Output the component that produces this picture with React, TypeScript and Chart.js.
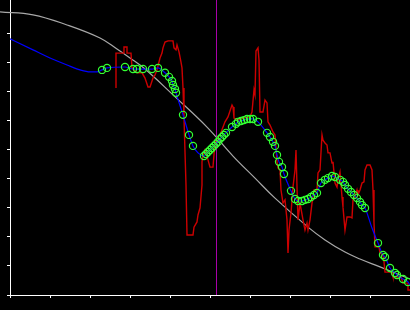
import { useEffect, useRef } from 'react';
import { Chart, registerables } from 'chart.js';

Chart.register(...registerables);

// Axis ticks (no labels shown)
const xTicks = [0, 1, 2, 3, 4, 5, 6, 7, 8, 9, 10];
const yTicks = [0, 1, 2, 3, 4, 5, 6, 7, 8, 9];
const X_MIN = 0;
const X_MAX = 10;
const Y_MIN = 0;
const Y_MAX = 10.17;

// Vertical marker position
const markerLineX = 5.1625;

// Gray reference curve
const grayX = [-0.25, 0.575, 1.425, 2.25, 2.675, 3.0, 3.375, 4.075, 4.925, 5.575, 6.125, 6.625, 7.45, 7.875, 8.375, 8.75, 9.25, 10.0];
const grayY = [9.76, 9.66, 9.31, 8.86, 8.48, 8.17, 7.79, 6.9, 5.79, 4.79, 4.03, 3.34, 2.34, 1.9, 1.48, 1.24, 0.97, 0.55];

// Red raw signal
const redX = [2.65,2.65,2.85,2.85,2.925,2.925,3.025,3.05,3.175,3.30,3.375,3.45,3.50,3.575,3.625,3.675,3.75,3.80,3.825,3.875,3.95,4.075,4.10,4.15,4.175,4.225,4.275,4.30,4.325,4.35,4.375,4.40,4.425,4.575,4.60,4.675,4.70,4.75,4.80,4.80,4.825,4.875,4.95,5.0,5.075,5.125,5.25,5.375,5.45,5.55,5.575,5.60,5.70,5.825,6.0,6.05,6.10,6.125,6.15,6.20,6.225,6.25,6.325,6.375,6.425,6.45,6.50,6.575,6.625,6.675,6.70,6.75,6.775,6.825,6.875,6.925,6.95,6.975,7.025,7.075,7.125,7.15,7.175,7.20,7.25,7.325,7.375,7.425,7.45,7.50,7.55,7.60,7.675,7.70,7.75,7.80,7.825,7.875,7.925,7.95,8.0,8.05,8.075,8.125,8.175,8.20,8.25,8.30,8.325,8.375,8.425,8.50,8.55,8.575,8.625,8.675,8.70,8.75,8.80,8.85,8.875,8.925,9.0,9.05,9.075,9.10,9.125,9.225,9.25,9.325,9.35,9.375,9.50,9.55,9.575,9.775,9.80,9.825,9.95,9.95,10.0];
const redY = [7.14,8.34,8.34,8.55,8.55,8.34,8.34,7.83,7.66,7.66,7.48,7.17,7.17,7.48,7.59,7.76,8.17,8.34,8.52,8.72,8.76,8.76,8.52,8.45,8.62,8.38,8.03,7.83,7.14,6.10,4.93,3.79,2.07,2.07,2.34,2.52,2.76,3.00,3.79,4.59,4.83,5.00,4.66,4.41,4.41,5.28,5.52,5.97,6.14,6.55,6.48,6.10,6.03,6.10,6.14,6.31,7.07,6.90,8.41,8.52,8.10,6.31,6.31,6.72,6.62,5.97,5.86,5.62,5.52,4.59,4.38,4.31,3.62,3.17,3.28,2.59,1.45,2.24,2.83,3.72,4.31,5.00,3.72,2.59,3.17,2.59,2.24,2.48,2.24,2.59,3.17,3.62,3.62,4.21,4.31,5.52,5.34,5.24,5.17,4.90,4.90,4.55,4.59,3.86,3.72,3.97,4.24,3.38,3.03,2.24,2.69,2.69,2.66,3.28,3.38,3.62,3.45,3.62,3.86,3.90,4.31,4.48,4.48,4.31,3.62,2.48,1.66,1.66,1.45,1.38,1.14,0.79,0.79,0.76,0.62,0.62,0.52,0.41,0.41,0.17,0.17];

// Green sample markers (lie on the blue fitted curve)
const sampleX = [2.30,2.425,2.875,3.075,3.175,3.325,3.55,3.70,3.875,3.975,4.05,4.075,4.125,4.15,4.325,4.475,4.575,4.85,4.90,4.95,5.00,5.05,5.10,5.15,5.20,5.25,5.30,5.35,5.40,5.55,5.65,5.70,5.775,5.85,5.925,6.00,6.075,6.20,6.425,6.50,6.575,6.625,6.675,6.725,6.80,6.85,7.025,7.125,7.20,7.30,7.375,7.45,7.525,7.60,7.675,7.775,7.875,7.95,8.05,8.125,8.25,8.325,8.375,8.45,8.525,8.60,8.675,8.75,8.80,8.875,9.20,9.325,9.375,9.50,9.625,9.675,9.825,9.95];
const sampleY = [7.76,7.83,7.86,7.79,7.79,7.79,7.79,7.83,7.66,7.52,7.38,7.24,7.10,6.97,6.21,5.52,5.14,4.79,4.86,4.93,5.00,5.07,5.14,5.21,5.28,5.38,5.45,5.52,5.59,5.79,5.90,5.97,6.00,6.03,6.07,6.07,6.07,5.97,5.59,5.45,5.28,5.14,4.83,4.59,4.41,4.17,3.59,3.31,3.24,3.24,3.28,3.31,3.38,3.45,3.52,3.86,3.97,4.03,4.10,4.07,3.97,3.90,3.79,3.66,3.55,3.45,3.34,3.21,3.10,3.00,1.79,1.38,1.31,0.93,0.76,0.69,0.55,0.45];

// Extra blue-curve points read where no marker sits
const blueExtraX = [0.0, 0.575, 1.0, 1.425, 1.75, 2.0, 2.175, 4.70, 9.05, 10.0];
const blueExtraY = [8.83, 8.45, 8.17, 7.93, 7.76, 7.69, 7.69, 4.90, 2.31, 0.34];

const pts = (xs: number[], ys: number[]) => {
  const n = Math.min(xs.length, ys.length);
  const out: { x: number; y: number }[] = [];
  for (let i = 0; i < n; i++) out.push({ x: xs[i], y: ys[i] });
  return out;
};

export default function App() {
  const ref = useRef<HTMLCanvasElement | null>(null);

  useEffect(() => {
    if (!ref.current) return;
    const bluePts = [...pts(blueExtraX, blueExtraY), ...pts(sampleX, sampleY)].sort((a, b) => a.x - b.x);

    const axisCommon = {
      type: 'linear' as const,
      ticks: { display: false },
      grid: { drawOnChartArea: false, drawTicks: true, tickLength: 3, color: '#ffffff', lineWidth: 1 },
      border: { display: true, color: '#ffffff', width: 1 },
    };

    const chart = new Chart(ref.current, {
      type: 'line',
      data: {
        datasets: [
          {
            label: 'samples',
            data: pts(sampleX, sampleY),
            showLine: false,
            pointRadius: 3.6,
            pointBorderWidth: 1.2,
            pointBorderColor: '#33ff33',
            pointBackgroundColor: 'rgba(0,0,0,0)',
            order: 0,
          },
          {
            label: 'fit',
            data: bluePts,
            borderColor: '#0000ff',
            borderWidth: 1.2,
            pointRadius: 0,
            cubicInterpolationMode: 'monotone',
            order: 1,
          },
          {
            label: 'marker',
            data: [
              { x: markerLineX, y: Y_MIN },
              { x: markerLineX, y: Y_MAX },
            ],
            borderColor: '#a800a8',
            borderWidth: 1,
            pointRadius: 0,
            order: 2,
          },
          {
            label: 'raw',
            data: pts(redX, redY),
            borderColor: '#cc0000',
            borderWidth: 1.4,
            pointRadius: 0,
            tension: 0,
            order: 3,
          },
          {
            label: 'reference',
            data: pts(grayX, grayY),
            borderColor: '#a8a8a8',
            borderWidth: 1.2,
            pointRadius: 0,
            tension: 0.4,
            clip: false,
            order: 4,
          },
        ],
      },
      options: {
        animation: false,
        responsive: false,
        devicePixelRatio: 1,
        layout: { padding: 0, autoPadding: false },
        plugins: { legend: { display: false }, tooltip: { enabled: false } },
        scales: {
          x: {
            ...axisCommon,
            min: X_MIN,
            max: X_MAX,
            afterBuildTicks: (s: any) => {
              s.ticks = xTicks.map((v) => ({ value: v }));
            },
            afterFit: (s: any) => {
              s.height = 15;
            },
          },
          y: {
            ...axisCommon,
            min: Y_MIN,
            max: Y_MAX,
            afterBuildTicks: (s: any) => {
              s.ticks = yTicks.map((v) => ({ value: v }));
            },
            afterFit: (s: any) => {
              s.width = 10;
            },
          },
        },
      },
    } as any);

    return () => chart.destroy();
  }, []);

  return (
    <div style={{ position: 'fixed', left: 0, top: 0, width: 410, height: 310, background: '#000' }}>
      <canvas ref={ref} width={410} height={310} style={{ display: 'block' }} />
    </div>
  );
}
